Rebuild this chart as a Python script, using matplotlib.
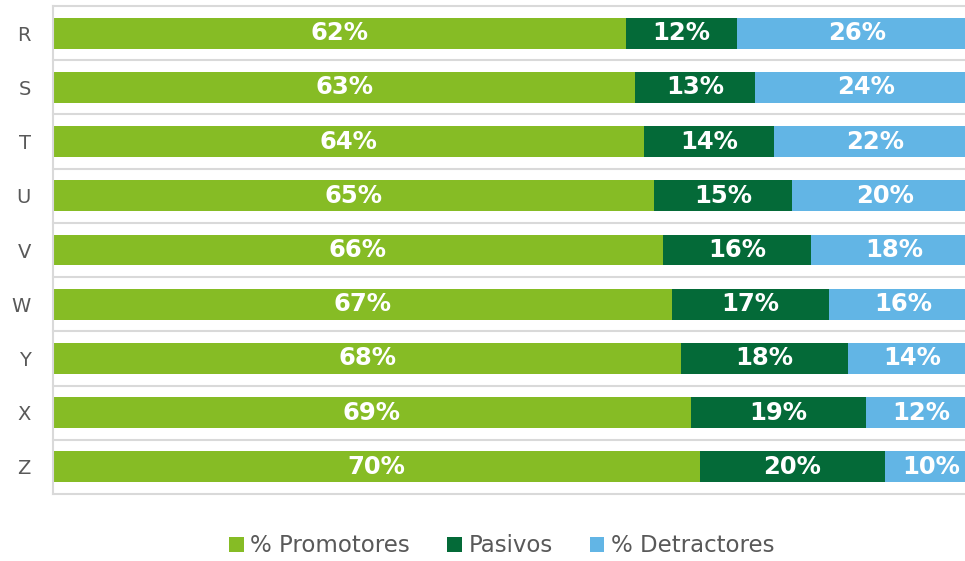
import matplotlib.pyplot as plt
import numpy as np

# datos ----------------------------------------------------------------------
categorias = ['R', 'S', 'T', 'U', 'V', 'W', 'Y', 'X', 'Z']
promotores = [62, 63, 64, 65, 66, 67, 68, 69, 70]
pasivos = [12, 13, 14, 15, 16, 17, 18, 19, 20]
detractores = [26, 24, 22, 20, 18, 16, 14, 12, 10]

series = [('% Promotores', promotores, '#86BC25'),
          ('Pasivos', pasivos, '#046A38'),
          ('% Detractores', detractores, '#62B5E5')]

fig = plt.figure(figsize=(9.65, 5.61), dpi=100)
# el area del grafico sale un poco por la derecha (recortada en el original)
ax = fig.add_axes([53 / 965, 67 / 561, 924 / 965, 488 / 561])

y = np.arange(len(categorias))
izq = np.zeros(len(categorias))
for nombre, vals, color in series:
    vals = np.array(vals, dtype=float)
    ax.barh(y, vals, left=izq, height=0.57, color=color, label=nombre)
    for yi, l, v in zip(y, izq, vals):
        ax.text(l + v / 2, yi, f'{int(v)}%', ha='center', va='center',
                color='white', fontsize=17.5, fontweight='bold')
    izq += vals

ax.set_xlim(0, 100)
ax.set_ylim(len(categorias) - 0.5, -0.5)
ax.set_yticks(y)
ax.set_yticklabels(categorias, fontsize=14, color='#595959')
ax.tick_params(axis='y', length=0, pad=16)
ax.set_xticks([])

# lineas de separacion
for b in np.arange(-0.5, len(categorias), 1):
    ax.axhline(b, color='#D9D9D9', lw=1.5, zorder=0, clip_on=False)
for s in ['top', 'right', 'bottom']:
    ax.spines[s].set_visible(False)
ax.spines['left'].set_color('#D9D9D9')
ax.spines['left'].set_linewidth(1.5)

leg = fig.legend(loc='center', bbox_to_anchor=(0.52, 1 - 546 / 561), ncol=3,
                 frameon=False, fontsize=16.5, handlelength=0.65, handleheight=0.65,
                 handletextpad=0.3, columnspacing=1.6)
for t in leg.get_texts():
    t.set_color('#595959')

fig.savefig('out.png', dpi=100)
